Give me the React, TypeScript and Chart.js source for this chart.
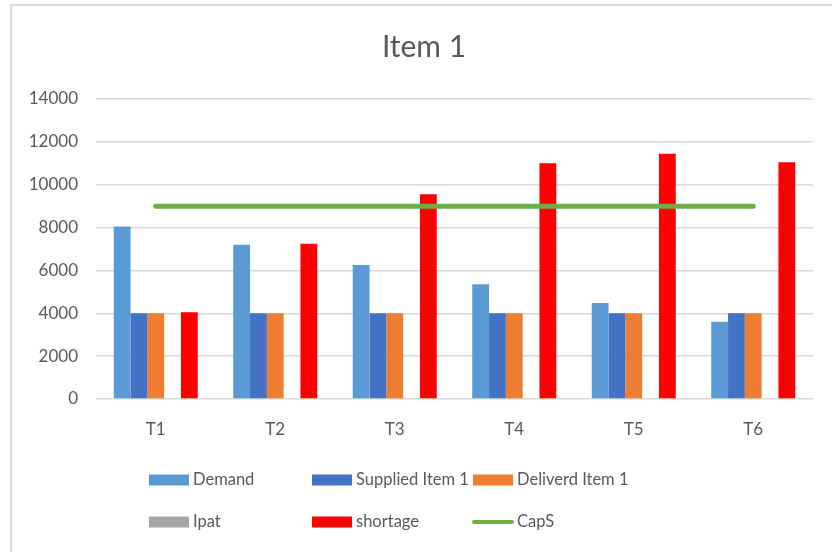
import React, { useEffect, useRef } from "react";
import { Chart, registerables } from "chart.js";

Chart.register(...registerables);

const chartTitle = "Item 1";
const periods = ["T1", "T2", "T3", "T4", "T5", "T6"];
const demand = [8050, 7200, 6250, 5350, 4480, 3600];
const suppliedItem1 = [4000, 4000, 4000, 4000, 4000, 4000];
const deliverdItem1 = [4000, 4000, 4000, 4000, 4000, 4000];
const ipat = [0, 0, 0, 0, 0, 0];
const shortage = [4050, 7250, 9550, 11000, 11450, 11050];
const capS = [9000, 9000, 9000, 9000, 9000, 9000];
const yTicks = [0, 2000, 4000, 6000, 8000, 10000, 12000, 14000];

const TEXT = "#595959";
const GRID = "#D9D9D9";
const FONT = "Lato, 'Noto Sans', sans-serif";

// Excel-style frame (thin grey border along the left and top) and the chart title
const framePlugin = {
  id: "frame",
  beforeDraw(chart: any) {
    const ctx = chart.ctx;
    ctx.save();
    ctx.fillStyle = "#ffffff";
    ctx.fillRect(0, 0, chart.width, chart.height);
    ctx.strokeStyle = "#D9D9D9";
    ctx.lineWidth = 2;
    ctx.beginPath();
    ctx.moveTo(11, chart.height + 2);
    ctx.lineTo(11, 5);
    ctx.lineTo(chart.width + 2, 5);
    ctx.stroke();
    ctx.fillStyle = TEXT;
    ctx.font = `30px ${FONT}`;
    ctx.textAlign = "center";
    ctx.textBaseline = "middle";
    ctx.fillText(chartTitle, 424, 47);
    ctx.restore();
  },
};

// Three-column legend grid under the plot
const gridLegendPlugin = {
  id: "gridLegend",
  afterDraw(chart: any) {
    const ctx = chart.ctx;
    const cols = [149, 312, 473];
    const rows = [480, 522];
    ctx.save();
    ctx.font = `16.5px ${FONT}`;
    ctx.textBaseline = "middle";
    ctx.textAlign = "left";
    chart.data.datasets.forEach((ds: any, i: number) => {
      const x = cols[i % 3];
      const y = rows[Math.floor(i / 3)];
      if (ds.type === "line") {
        ctx.strokeStyle = ds.borderColor;
        ctx.lineWidth = 4;
        ctx.lineCap = "round";
        ctx.beginPath();
        ctx.moveTo(x + 1, y);
        ctx.lineTo(x + 39, y);
        ctx.stroke();
      } else {
        ctx.fillStyle = ds.backgroundColor;
        ctx.fillRect(x, y - 5.5, 40, 11);
      }
      ctx.fillStyle = TEXT;
      ctx.fillText(ds.label, x + 44, y);
    });
    ctx.restore();
  },
};

export default function App() {
  const ref = useRef<HTMLCanvasElement | null>(null);

  useEffect(() => {
    if (!ref.current) return;
    Chart.defaults.font.family = FONT;
    const chart = new Chart(ref.current, {
      type: "bar",
      data: {
        labels: periods,
        datasets: [
          { label: "Demand", data: demand, backgroundColor: "#5B9BD5" },
          { label: "Supplied Item 1", data: suppliedItem1, backgroundColor: "#4472C4" },
          { label: "Deliverd Item 1", data: deliverdItem1, backgroundColor: "#ED7D31" },
          { label: "Ipat", data: ipat, backgroundColor: "#A5A5A5" },
          { label: "shortage", data: shortage, backgroundColor: "#FF0000" },
          {
            type: "line",
            label: "CapS",
            data: capS,
            borderColor: "#70AD47",
            backgroundColor: "#70AD47",
            borderWidth: 5,
            borderCapStyle: "round",
            pointRadius: 0,
            pointHoverRadius: 0,
            order: -1,
          } as any,
        ],
      },
      options: {
        responsive: false,
        animation: false,
        devicePixelRatio: 1,
        layout: { padding: { top: 99, left: 11, right: 19, bottom: 93 } },
        datasets: {
          bar: { barPercentage: 1, categoryPercentage: 0.703, borderWidth: 0 },
        },
        plugins: {
          legend: { display: false },
          tooltip: { enabled: false },
          title: { display: false },
        },
        scales: {
          x: {
            grid: { display: false, drawTicks: false },
            border: { display: false },
            ticks: { color: TEXT, font: { size: 17 }, padding: 20 },
            afterFit(scale: any) {
              scale.height = 60;
            },
          },
          y: {
            min: 0,
            max: 14000,
            afterBuildTicks(scale: any) {
              scale.ticks = yTicks.map((v) => ({ value: v }));
            },
            grid: { color: GRID, lineWidth: 1.5, drawTicks: false },
            border: { display: false },
            ticks: {
              color: TEXT,
              font: { size: 17 },
              padding: 18,
              callback: (v: any) => String(v),
            },
            afterFit(scale: any) {
              scale.width = 85;
            },
          },
        },
      },
      plugins: [framePlugin, gridLegendPlugin],
    });
    return () => chart.destroy();
  }, []);

  return (
    <div style={{ position: "fixed", left: 0, top: 0, width: 832, height: 552, background: "#fff" }}>
      <canvas ref={ref} width={832} height={552} style={{ display: "block", width: 832, height: 552 }} />
    </div>
  );
}
